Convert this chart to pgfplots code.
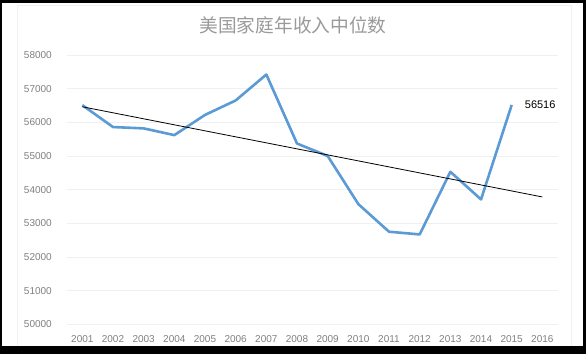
\documentclass[border=0pt]{standalone}
\usepackage{pgfplots}
\pgfplotsset{compat=1.18}
\usepackage{fontspec}
\setmainfont{Liberation Sans}
\newfontfamily\cjk{Noto Sans CJK SC}
\definecolor{lineblue}{HTML}{5B9BD5}
\definecolor{ticktext}{HTML}{808080}
\definecolor{titlegray}{HTML}{9A9A9A}
\definecolor{gridc}{HTML}{F0F0F0}
\begin{document}
\begin{tikzpicture}[x=1pt,y=1pt]
\path[use as bounding box] (0,0) rectangle (586,354);
\fill[black] (0,0) rectangle (586,354);
\fill[white] (2,8) rectangle (583,351);
\draw[gray!12, line width=0.6pt] (17,8) -- (17,349) -- (571,349) -- (571,8);
\node[font=\cjk\fontsize{18.7}{20}\selectfont, text=titlegray, anchor=center] at (293,329) {美国家庭年收入中位数};
\begin{axis}[
  at={(67pt,29.7pt)}, anchor=south west,
  scale only axis, width=490.7pt, height=269.3pt,
  xmin=2000.5, xmax=2016.5,
  ymin=50000, ymax=58000,
  xtick={2001,...,2016},
  ytick={50000,51000,...,58000},
  scaled y ticks=false, scaled x ticks=false,
  axis line style={draw=none},
  major tick length=0pt,
  ymajorgrids, grid style={draw=gridc, line width=0.75pt},
  /pgf/number format/.cd, fixed, 1000 sep={}, assume math mode=true,
  /pgfplots/.cd,
  tick label style={font=\fontsize{10}{12}\selectfont, text=ticktext},
  yticklabel style={anchor=east, inner sep=0pt, xshift=-15pt},
  xticklabel style={anchor=center, inner sep=0pt, yshift=-14.7pt},
  clip=false,
]
\addplot[lineblue, line width=2.6pt, line join=round] coordinates {
  (2001,56510) (2002,55860) (2003,55820) (2004,55620) (2005,56220)
  (2006,56650) (2007,57420) (2008,55370) (2009,55000) (2010,53570)
  (2011,52750) (2012,52670) (2013,54530) (2014,53710) (2015,56516)
};
\addplot[black, line width=0.8pt] coordinates {(2001,56462) (2016,53783)};
\node[anchor=west, inner sep=0pt, xshift=13pt, font=\fontsize{11}{13}\selectfont, text=black] at (axis cs:2015,56516) {56516};
\end{axis}
\end{tikzpicture}
\end{document}
